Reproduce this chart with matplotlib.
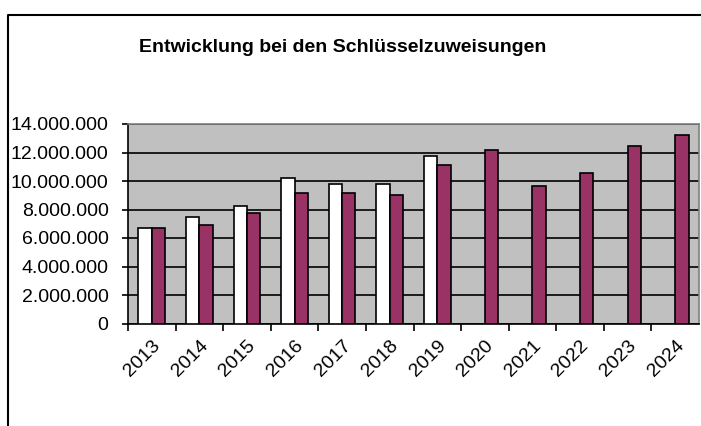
import matplotlib
matplotlib.use("Agg")
import matplotlib.pyplot as plt
import numpy as np
from matplotlib.lines import Line2D
from matplotlib.ticker import FuncFormatter

years = ["2013", "2014", "2015", "2016", "2017", "2018", "2019",
         "2020", "2021", "2022", "2023", "2024"]
ist_werte = [6.67e6, 7.47e6, 8.24e6, 10.21e6, 9.81e6, 9.78e6, 11.76e6,
             np.nan, np.nan, np.nan, np.nan, np.nan]
plan_werte = [6.67e6, 6.91e6, 7.73e6, 9.18e6, 9.15e6, 9.00e6, 11.13e6,
              12.16e6, 9.66e6, 10.59e6, 12.46e6, 13.23e6]

plt.rcParams['font.family'] = ['Liberation Sans', 'DejaVu Sans']

fig = plt.figure(figsize=(7.01, 4.26), dpi=100)
ax = fig.add_axes([128/701, 1-323.5/426, (699-128)/701, (323.5-124)/426])
ax.set_facecolor('#C0C0C0')

x = np.arange(len(years))
w = 0.28
ax.bar(x - w/2, ist_werte, width=w, color='white', edgecolor='black', linewidth=1.2, zorder=3)
ax.bar(x + w/2, plan_werte, width=w, color='#993366', edgecolor='black', linewidth=1.2, zorder=3)

ax.set_xlim(-0.5, 11.5)
ax.set_ylim(0, 14e6)
ax.set_yticks(np.arange(0, 14e6 + 1, 2e6))
ax.yaxis.set_major_formatter(FuncFormatter(lambda v, p: f"{int(v):,}".replace(",", ".")))
ax.yaxis.grid(True, color='black', linewidth=1.2, zorder=1)
ax.set_axisbelow(True)
ax.tick_params(axis='y', length=4, width=1.2, labelsize=14, pad=10)

ax.set_xticks(x)
ax.set_xticklabels(years, rotation=45, ha='right', rotation_mode='anchor', fontsize=14)
ax.tick_params(axis='x', which='major', length=0, pad=10)
ax.set_xticks(np.arange(-0.5, 11.0, 1), minor=True)
ax.tick_params(axis='x', which='minor', length=5, width=1.2)

for s in ['left', 'bottom']:
    ax.spines[s].set_color('black')
    ax.spines[s].set_linewidth(1.2)
for s in ['top', 'right']:
    ax.spines[s].set_color('#808080')
    ax.spines[s].set_linewidth(1.2)

fig.text(343/701, 1-47/426, "Entwicklung bei den Schlüsselzuweisungen",
         ha='center', va='center', fontsize=14, fontweight='bold')

# figure border
fig.add_artist(Line2D([8/701, 8/701, 1.0], [0, 1-14.5/426, 1-14.5/426],
                      transform=fig.transFigure, color='black', linewidth=1.5))

fig.savefig("out.png", dpi=100)
